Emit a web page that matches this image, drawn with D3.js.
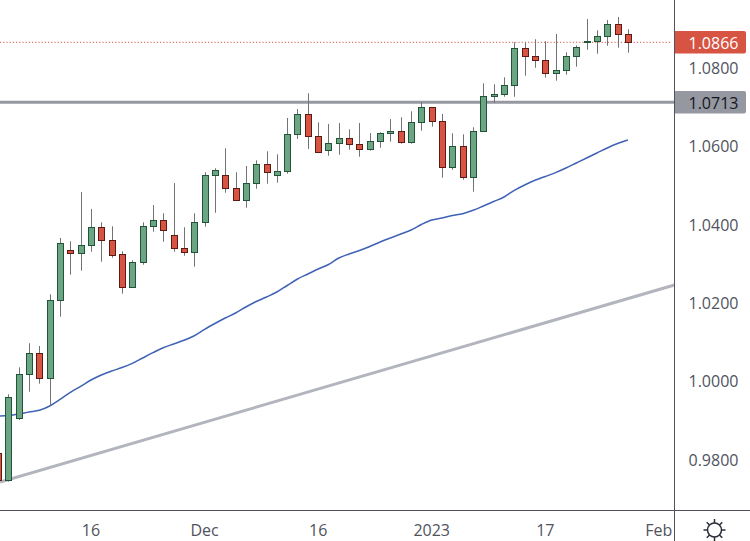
<!DOCTYPE html>
<html><head><meta charset="utf-8">
<script src="https://cdnjs.cloudflare.com/ajax/libs/d3/7.8.5/d3.min.js"></script>
<style>html,body{margin:0;padding:0;background:#fff}svg{display:block}text{font-family:"Open Sans","Noto Sans",sans-serif}</style>
</head><body><div id="chart"></div>
<script>
const opens=[.98145,.97457,.99038,1.00161,1.00696,1.00059,1.02048,1.03324,1.03247,1.03452,1.03911,1.03579,1.03222,1.0238,1.03018,1.03936,1.04089,1.03707,1.03375,1.03273,1.04038,1.05237,1.05237,1.04901,1.04589,1.05033,1.05518,1.05227,1.05339,1.06283,1.06793,1.06222,1.05865,1.06054,1.06181,1.06018,1.0589,1.06105,1.06309,1.0636,1.06069,1.06589,1.06972,1.06605,1.05431,1.05977,1.05176,1.0636,1.07242,1.07304,1.07533,1.08477,1.08273,1.08171,1.07839,1.07916,1.08273,1.0863,1.08656,1.08783,1.09089,1.08834];
const closes=[.97457,.99574,1.00161,1.00696,1.00059,1.02048,1.03503,1.03247,1.03452,1.03911,1.03579,1.03196,1.0238,1.03018,1.03936,1.04089,1.03834,1.03375,1.03273,1.04038,1.05237,1.05365,1.04901,1.04589,1.05033,1.05518,1.05304,1.05339,1.06283,1.06793,1.06222,1.05814,1.06054,1.06181,1.06018,1.0589,1.06105,1.06309,1.0636,1.06069,1.06589,1.06972,1.06605,1.05431,1.05977,1.05176,1.0636,1.07253,1.07304,1.07533,1.08477,1.08273,1.08171,1.07839,1.07916,1.08273,1.08503,1.08656,1.08783,1.09089,1.08834,1.0863];
const highs=[.98153,.99651,1.00339,1.00952,1.00883,1.02202,1.03638,1.03554,1.04811,1.04378,1.04038,1.03936,1.03298,1.03069,1.04038,1.0448,1.04268,1.05041,1.03911,1.04268,1.05314,1.05416,1.05926,1.05314,1.05475,1.0562,1.0585,1.05773,1.06699,1.06929,1.07329,1.06589,1.06546,1.06571,1.06411,1.06571,1.06316,1.06334,1.06673,1.06717,1.0687,1.071,1.06972,1.06801,1.06309,1.06283,1.06462,1.07584,1.07559,1.07737,1.0863,1.0863,1.08707,1.08656,1.08842,1.08375,1.08554,1.09224,1.08936,1.09199,1.09276,1.08962];
const lows=[.97413,.97421,.98995,.99717,.99921,.9936,1.0163,1.02702,1.02804,1.03288,1.03033,1.03135,1.02217,1.0238,1.02957,1.03798,1.03543,1.03288,1.03186,1.02906,1.03926,1.04283,1.04793,1.04589,1.04411,1.04895,1.05023,1.05048,1.05278,1.06163,1.05908,1.05814,1.05737,1.05763,1.0589,1.05712,1.05865,1.05941,1.06094,1.06043,1.06043,1.06375,1.06477,1.05176,1.0538,1.05125,1.04819,1.0636,1.07089,1.07242,1.07242,1.07778,1.07982,1.07727,1.07651,1.07804,1.08008,1.08441,1.08339,1.08543,1.08492,1.08365];
const maValues=[.99097,.9911,.99148,.99199,.99242,.99352,.99518,.99702,.99855,1.00015,1.00143,1.00245,1.00334,1.00441,1.00577,1.00712,1.00839,1.00934,1.01028,1.01145,1.01309,1.01457,1.01597,1.01725,1.01878,1.02018,1.02133,1.0226,1.02426,1.02592,1.02719,1.02847,1.02962,1.03128,1.0323,1.03319,1.03421,1.03536,1.03638,1.0374,1.03842,1.03982,1.04097,1.04148,1.04209,1.04258,1.04344,1.04454,1.04569,1.04684,1.04855,1.0499,1.0511,1.05207,1.05306,1.05423,1.05551,1.05679,1.05806,1.05934,1.06048,1.06138];
const trendIdx=[0.19,65.5];
const trendVal=[.97413,1.02439];
const hLevel=1.0710, lastLevel=1.0863;
const hLabel="1.0713", lastLabel="1.0866";
const yTicks=[1.08,1.06,1.04,1.02,1.00,0.98];
const xTickIdx=[9,20,31,42,53,64];
const xTickLabels=["16","Dec","16","2023","17","Feb"];

const W=750,H=541,paneR=674,paneB=510;
const svg=d3.select("#chart").append("svg").attr("width",W).attr("height",H);
const x=d3.scaleLinear().domain([0,61]).range([-1.925,627.9]);
const y=d3.scaleLinear().domain([1.08,0.98]).range([67,459]);
const cx=i=>Math.round(x(i))+0.5;
const cy=v=>Math.floor(y(v))+0.5;
svg.append("defs").append("clipPath").attr("id","pane").append("rect").attr("width",paneR).attr("height",paneB);
const g=svg.append("g").attr("clip-path","url(#pane)");

g.append("line").attr("x1",0).attr("x2",paneR-2).attr("y1",y(lastLevel)).attr("y2",y(lastLevel))
 .attr("stroke","#d75442").attr("stroke-width",1).attr("stroke-dasharray","1.2 2");
g.append("line").attr("x1",x(trendIdx[0])).attr("x2",x(trendIdx[1])).attr("y1",y(trendVal[0])).attr("y2",y(trendVal[1]))
 .attr("stroke","#b2b5be").attr("stroke-width",3);
g.append("line").attr("x1",0).attr("x2",paneR).attr("y1",y(hLevel)).attr("y2",y(hLevel))
 .attr("stroke","#9598a1").attr("stroke-width",3);
g.append("path").datum(maValues)
 .attr("d",d3.line().x((d,i)=>x(i)).y(d=>y(d)).curve(d3.curveMonotoneX))
 .attr("fill","none").attr("stroke","#3f62b5").attr("stroke-width",1.5);

const idx=d3.range(opens.length);
g.selectAll("line.wick").data(idx).join("line").attr("class","wick")
 .attr("x1",cx).attr("x2",cx).attr("y1",i=>y(highs[i])).attr("y2",i=>y(lows[i]))
 .attr("stroke","#737375").attr("stroke-width",1);
g.selectAll("rect.body").data(idx).join("rect").attr("class","body")
 .attr("x",i=>cx(i)-3).attr("width",6)
 .attr("y",i=>cy(Math.max(opens[i],closes[i])))
 .attr("height",i=>Math.max(1,cy(Math.min(opens[i],closes[i]))-cy(Math.max(opens[i],closes[i]))))
 .attr("fill",i=>closes[i]>=opens[i]?"#6ba583":"#d75442")
 .attr("stroke",i=>closes[i]>=opens[i]?"#225437":"#5b1a13").attr("stroke-width",1);

svg.append("line").attr("x1",0).attr("x2",W).attr("y1",510.5).attr("y2",510.5).attr("stroke","#50535e");
svg.append("line").attr("x1",674.5).attr("x2",674.5).attr("y1",0).attr("y2",H).attr("stroke","#50535e");

const tickFont=16, tickColor="#50535e";
svg.selectAll("text.yt").data(yTicks).join("text").attr("class","yt")
 .attr("x",713.5).attr("y",d=>y(d)+6.8).attr("text-anchor","middle")
 .attr("font-size",tickFont).attr("fill",tickColor).text(d=>d.toFixed(4));
svg.selectAll("text.xt").data(xTickIdx).join("text").attr("class","xt")
 .attr("x",d=>x(d)).attr("y",536).attr("text-anchor","middle")
 .attr("font-size",tickFont).attr("fill",tickColor).text((d,i)=>xTickLabels[i]);

function tag(top,fill,color,label){
 svg.append("path").attr("d",`M675,${top}H744a2,2 0 0 1 2,2V${top+20.5}a2,2 0 0 1 -2,2H675Z`).attr("fill",fill);
 svg.append("text").attr("x",713.5).attr("y",top+17.6).attr("text-anchor","middle")
  .attr("font-size",tickFont).attr("fill",color).text(label);
}
tag(31,"#d75442","#ffffff",lastLabel);
tag(91,"#9598a1","#131722",hLabel);

const sun=svg.append("g").attr("transform","translate(714.5,530)").attr("fill","none").attr("stroke","#2a2e39").attr("stroke-width",1.5);
sun.append("circle").attr("r",7);
d3.range(8).forEach(k=>{const a=k*Math.PI/4;
 sun.append("line").attr("x1",7*Math.cos(a)).attr("y1",7*Math.sin(a)).attr("x2",11*Math.cos(a)).attr("y2",11*Math.sin(a));});
</script></body></html>
